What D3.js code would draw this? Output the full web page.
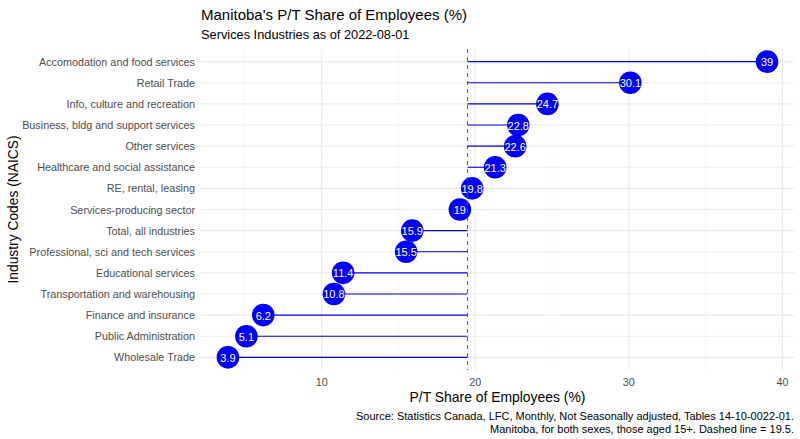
<!DOCTYPE html>
<html>
<head>
<meta charset="utf-8">
<script src="https://cdn.jsdelivr.net/npm/d3@7"></script>
<style>
  body { margin: 0; background: #fff; }
  svg { font-family: Arial, "Liberation Sans", sans-serif; }
</style>
</head>
<body>
<div id="chart"></div>
<script>
// industries, top to bottom
const industries = [
  'Accomodation and food services',
  'Retail Trade',
  'Info, culture and recreation',
  'Business, bldg and support services',
  'Other services',
  'Healthcare and social assistance',
  'RE, rental, leasing',
  'Services-producing sector',
  'Total, all industries',
  'Professional, sci and tech services',
  'Educational services',
  'Transportation and warehousing',
  'Finance and insurance',
  'Public Administration',
  'Wholesale Trade'
]
const shares = [39, 30.1, 24.7, 22.8, 22.6, 21.3, 19.8, 19, 15.9, 15.5, 11.4, 10.8, 6.2, 5.1, 3.9]
const xTicks = [10, 20, 30, 40]
const xMinor = [5, 15, 25, 35]
const refLine = 19.5

const width = 800
const height = 439
const margin = { top: 49, right: 6, bottom: 69, left: 201 }

const svg = d3.select('#chart').append('svg')
  .attr('width', width)
  .attr('height', height)

const plotW = width - margin.left - margin.right
const plotH = height - margin.top - margin.bottom

const g = svg.append('g')
  .attr('transform', `translate(${margin.left},${margin.top})`)

// ggplot style 5% expansion
const lo = d3.min(shares), hi = d3.max(shares)
const pad = (hi - lo) * 0.05
const x = d3.scaleLinear().domain([lo - pad, hi + pad]).range([0, plotW])

// discrete axis with 0.6 expansion
const step = plotH / (industries.length - 1 + 1.2)
const y = d3.scalePoint().domain(industries).range([0.6 * step, plotH - 0.6 * step])

// grid
g.selectAll('.minor').data(xMinor).join('line')
  .attr('x1', d => x(d)).attr('x2', d => x(d))
  .attr('y1', 0).attr('y2', plotH)
  .attr('stroke', '#f0f0f0').attr('stroke-width', 0.6)
g.selectAll('.major').data(xTicks).join('line')
  .attr('x1', d => x(d)).attr('x2', d => x(d))
  .attr('y1', 0).attr('y2', plotH)
  .attr('stroke', '#ebebeb').attr('stroke-width', 1.1)
g.selectAll('.hgrid').data(industries).join('line')
  .attr('x1', 0).attr('x2', plotW)
  .attr('y1', d => y(d)).attr('y2', d => y(d))
  .attr('stroke', '#ebebeb').attr('stroke-width', 1.1)

// axis labels
g.selectAll('.ylab').data(industries).join('text')
  .attr('x', -6).attr('y', d => y(d))
  .attr('text-anchor', 'end').attr('dominant-baseline', 'central')
  .attr('fill', '#4d4d4d').style('font-size', '10.8px')
  .text(d => d)
g.selectAll('.xlab').data(xTicks).join('text')
  .attr('x', d => x(d)).attr('y', plotH + 12)
  .attr('text-anchor', 'middle').attr('dominant-baseline', 'central')
  .attr('fill', '#4d4d4d').style('font-size', '10.8px')
  .text(d => d)

// lollipop sticks from reference line
const rows = industries.map((name, i) => ({ name, value: shares[i] }))
g.selectAll('.stick').data(rows).join('line')
  .attr('x1', x(refLine)).attr('x2', d => x(d.value))
  .attr('y1', d => y(d.name)).attr('y2', d => y(d.name))
  .attr('stroke', '#0000ff').attr('stroke-width', 1.1)

g.selectAll('.dot').data(rows).join('circle')
  .attr('cx', d => x(d.value)).attr('cy', d => y(d.name))
  .attr('r', 11.3)
  .attr('fill', '#0000ff')

g.selectAll('.val').data(rows).join('text')
  .attr('x', d => x(d.value)).attr('y', d => y(d.name) + 0.5)
  .attr('text-anchor', 'middle').attr('dominant-baseline', 'central')
  .attr('fill', '#fff').style('font-size', '11px')
  .text(d => d.value)

// dashed reference line
g.append('line')
  .attr('x1', x(refLine)).attr('x2', x(refLine))
  .attr('y1', 0).attr('y2', plotH)
  .attr('stroke', '#555').attr('stroke-width', 1)
  .attr('stroke-dasharray', '4,4')

// titles
svg.append('text')
  .attr('x', margin.left).attr('y', 20)
  .attr('fill', '#000').style('font-size', '15px')
  .text("Manitoba's P/T Share of Employees (%)")
svg.append('text')
  .attr('x', margin.left).attr('y', 39)
  .attr('fill', '#000').style('font-size', '12.8px')
  .text('Services Industries as of 2022-08-01')

svg.append('text')
  .attr('x', margin.left + plotW / 2).attr('y', 402)
  .attr('text-anchor', 'middle')
  .attr('fill', '#000').style('font-size', '13.9px')
  .text('P/T Share of Employees (%)')

svg.append('text')
  .attr('transform', `translate(18,${margin.top + plotH / 2}) rotate(-90)`)
  .attr('text-anchor', 'middle')
  .attr('fill', '#000').style('font-size', '13.8px')
  .text('Industry Codes (NAICS)')

// caption
const caption = [
  'Source: Statistics Canada, LFC, Monthly, Not Seasonally adjusted, Tables 14-10-0022-01.',
  'Manitoba, for both sexes, those aged 15+. Dashed line = 19.5.'
]
svg.selectAll('.cap').data(caption).join('text')
  .attr('x', width - margin.right).attr('y', (d, i) => 420 + i * 12.5)
  .attr('text-anchor', 'end')
  .attr('fill', '#000').style('font-size', '11px')
  .text(d => d)
</script>
</body>
</html>
